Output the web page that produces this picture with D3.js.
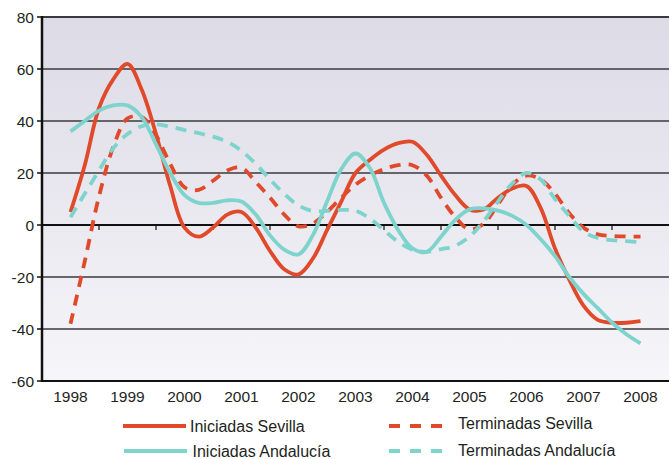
<!DOCTYPE html>
<html>
<head>
<meta charset="utf-8">
<script src="https://cdn.jsdelivr.net/npm/d3@7"></script>
<style>
  body { margin: 0; background: #fff; }
  text { font-family: "Liberation Sans", Arial, sans-serif; fill: #231f20; }
</style>
</head>
<body>
<div id="chart"></div>
<script>

// quarterly readings, 1998 Q1 .. 2008 Q1
const startYear = 1998;
const years = ["1998", "1999", "2000", "2001", "2002", "2003", "2004", "2005", "2006", "2007", "2008"];
const yTicks = [-60, -40, -20, 0, 20, 40, 60, 80];

const iniciadasSevilla = [5, 23, 45, 56, 62, 52, 35, 15, -1, -4.5, -1, 4, 5, -1, -10, -17, -19, -13, -2, 9, 20,
    25, 29, 31.5, 32, 27, 19, 11.5, 6, 6, 10.5, 14, 15, 6.5, -9, -21, -31, -36.5, -37.6, -37.6, -37];
const terminadasSevilla = [-38, -14, 11, 30, 41, 41.5, 34.5, 23.5, 14.5, 13.5, 17, 21, 22, 16.5, 10.5, 4, -0.5, 0.5, 5, 10.5, 15.5,
    19, 21.5, 23, 23, 19, 10.5, 3, -1.7, 0.5, 8, 15.5, 19, 17.5, 12, 4.5, -1, -3.6, -4.2, -4.4, -4.5];
const iniciadasAndalucia = [36, 40, 44, 46, 46, 41.5, 31, 20, 11.5, 8.5, 8.5, 9.5, 9, 4, -4, -9.5, -11.3, -4, 9, 21.5, 27.5,
    22, 8.5, -2, -9, -10.3, -4.5, 2, 6, 6.4, 5.5, 3.5, 0, -5.5, -12, -20, -26.5, -32, -37.5, -42, -45.5];
const terminadasAndalucia = [3, 12, 21, 29.5, 35, 38, 38.7, 37.8, 36.5, 35.3, 34, 32, 28.5, 23.5, 17.5, 12, 7.5, 5.4, 5.4, 5.8, 5.5,
    2.5, -2, -6.5, -9.5, -10.3, -9.3, -8, -4.5, 1.5, 9, 16, 20, 17.5, 10, 3.5, -2.5, -5, -5.8, -6.2, -6.6];

const red = "#e04a2b";
const teal = "#7ed3cc";

const series = [
    { name: "Iniciadas Sevilla", values: iniciadasSevilla, color: red, dash: null },
    { name: "Terminadas Sevilla", values: terminadasSevilla, color: red, dash: "11,8" },
    { name: "Iniciadas Andalucía", values: iniciadasAndalucia, color: teal, dash: null },
    { name: "Terminadas Andalucía", values: terminadasAndalucia, color: teal, dash: "11,8" }
];

const width = 669, height = 459;
const plotLeft = 42, plotRight = 669, plotTop = 17, plotBottom = 381;

const svg = d3.select("#chart").append("svg")
    .attr("width", width)
    .attr("height", height);

const y = d3.scaleLinear().domain([-60, 80]).range([plotBottom, plotTop]);
// band per year, line points sit in the middle of each band
const band = (plotRight - plotLeft) / years.length;
const x = d3.scaleLinear()
    .domain([startYear, startYear + years.length - 1])
    .range([plotLeft + band / 2, plotRight - band / 2]);

const grad = svg.append("defs").append("linearGradient")
    .attr("id", "bg").attr("x1", 0).attr("y1", 0).attr("x2", 0).attr("y2", 1);
grad.append("stop").attr("offset", "0%").attr("stop-color", "#dcdbe6");
grad.append("stop").attr("offset", "100%").attr("stop-color", "#f6f5f9");

svg.append("rect")
    .attr("x", plotLeft).attr("y", plotTop)
    .attr("width", plotRight - plotLeft).attr("height", plotBottom - plotTop)
    .attr("fill", "url(#bg)");

// gridlines
svg.selectAll("line.grid")
    .data(yTicks)
    .enter()
    .append("line")
    .attr("class", "grid")
    .attr("x1", plotLeft).attr("x2", plotRight)
    .attr("y1", d => y(d)).attr("y2", d => y(d))
    .attr("stroke", d => (d === 0 || d === -60) ? "#111" : "#3a3a3e")
    .attr("stroke-width", d => (d === 0 || d === -60 || d === 80) ? 2.2 : 1.6);

// y axis
svg.append("line")
    .attr("x1", plotLeft).attr("x2", plotLeft)
    .attr("y1", plotTop - 1).attr("y2", plotBottom + 1)
    .attr("stroke", "#111").attr("stroke-width", 2.5);

svg.selectAll("line.ytick")
    .data(yTicks)
    .enter()
    .append("line")
    .attr("x1", plotLeft - 5).attr("x2", plotLeft)
    .attr("y1", d => y(d)).attr("y2", d => y(d))
    .attr("stroke", "#111").attr("stroke-width", 1.5);

svg.selectAll("text.ylab")
    .data(yTicks)
    .enter()
    .append("text")
    .attr("x", plotLeft - 8)
    .attr("y", d => y(d) + 5.5)
    .attr("text-anchor", "end")
    .style("font-size", "15.5px")
    .text(d => d);

// x ticks on the zero line, between years
svg.selectAll("line.xtick")
    .data(years.slice(1))
    .enter()
    .append("line")
    .attr("x1", (d, i) => plotLeft + band * (i + 1))
    .attr("x2", (d, i) => plotLeft + band * (i + 1))
    .attr("y1", y(0)).attr("y2", y(0) + 5)
    .attr("stroke", "#111").attr("stroke-width", 1.2);

svg.selectAll("text.xlab")
    .data(years)
    .enter()
    .append("text")
    .attr("x", d => x(+d))
    .attr("y", 402)
    .attr("text-anchor", "middle")
    .style("font-size", "15.5px")
    .text(d => d);

const line = d3.line()
    .x((d, i) => x(startYear + i / 4))
    .y(d => y(d))
    .curve(d3.curveCatmullRom.alpha(0.5));

svg.selectAll("path.serie")
    .data(series)
    .enter()
    .append("path")
    .attr("class", "serie")
    .attr("d", d => line(d.values))
    .attr("fill", "none")
    .attr("stroke", d => d.color)
    .attr("stroke-width", 3.8)
    .attr("stroke-dasharray", d => d.dash)
    .attr("stroke-linejoin", "round");

// legend
const legendPos = [
    { lx: 123, ly: 426, tx: 190, ty: 431.5 },
    { lx: 389, ly: 426, tx: 458, ty: 429 },
    { lx: 124, ly: 451, tx: 192.5, ty: 457 },
    { lx: 389, ly: 451, tx: 458, ty: 456 }
];

series.forEach(function (s, i) {
    const p = legendPos[i];
    svg.append("line")
        .attr("x1", p.lx).attr("x2", s.dash ? p.lx + 54 : p.lx + 63)
        .attr("y1", p.ly).attr("y2", p.ly)
        .attr("stroke", s.color)
        .attr("stroke-width", 4)
        .attr("stroke-dasharray", s.dash ? "11,10" : null);
    svg.append("text")
        .attr("x", p.tx).attr("y", p.ty)
        .style("font-size", "16px")
        .text(s.name);
});

</script>
</body>
</html>
